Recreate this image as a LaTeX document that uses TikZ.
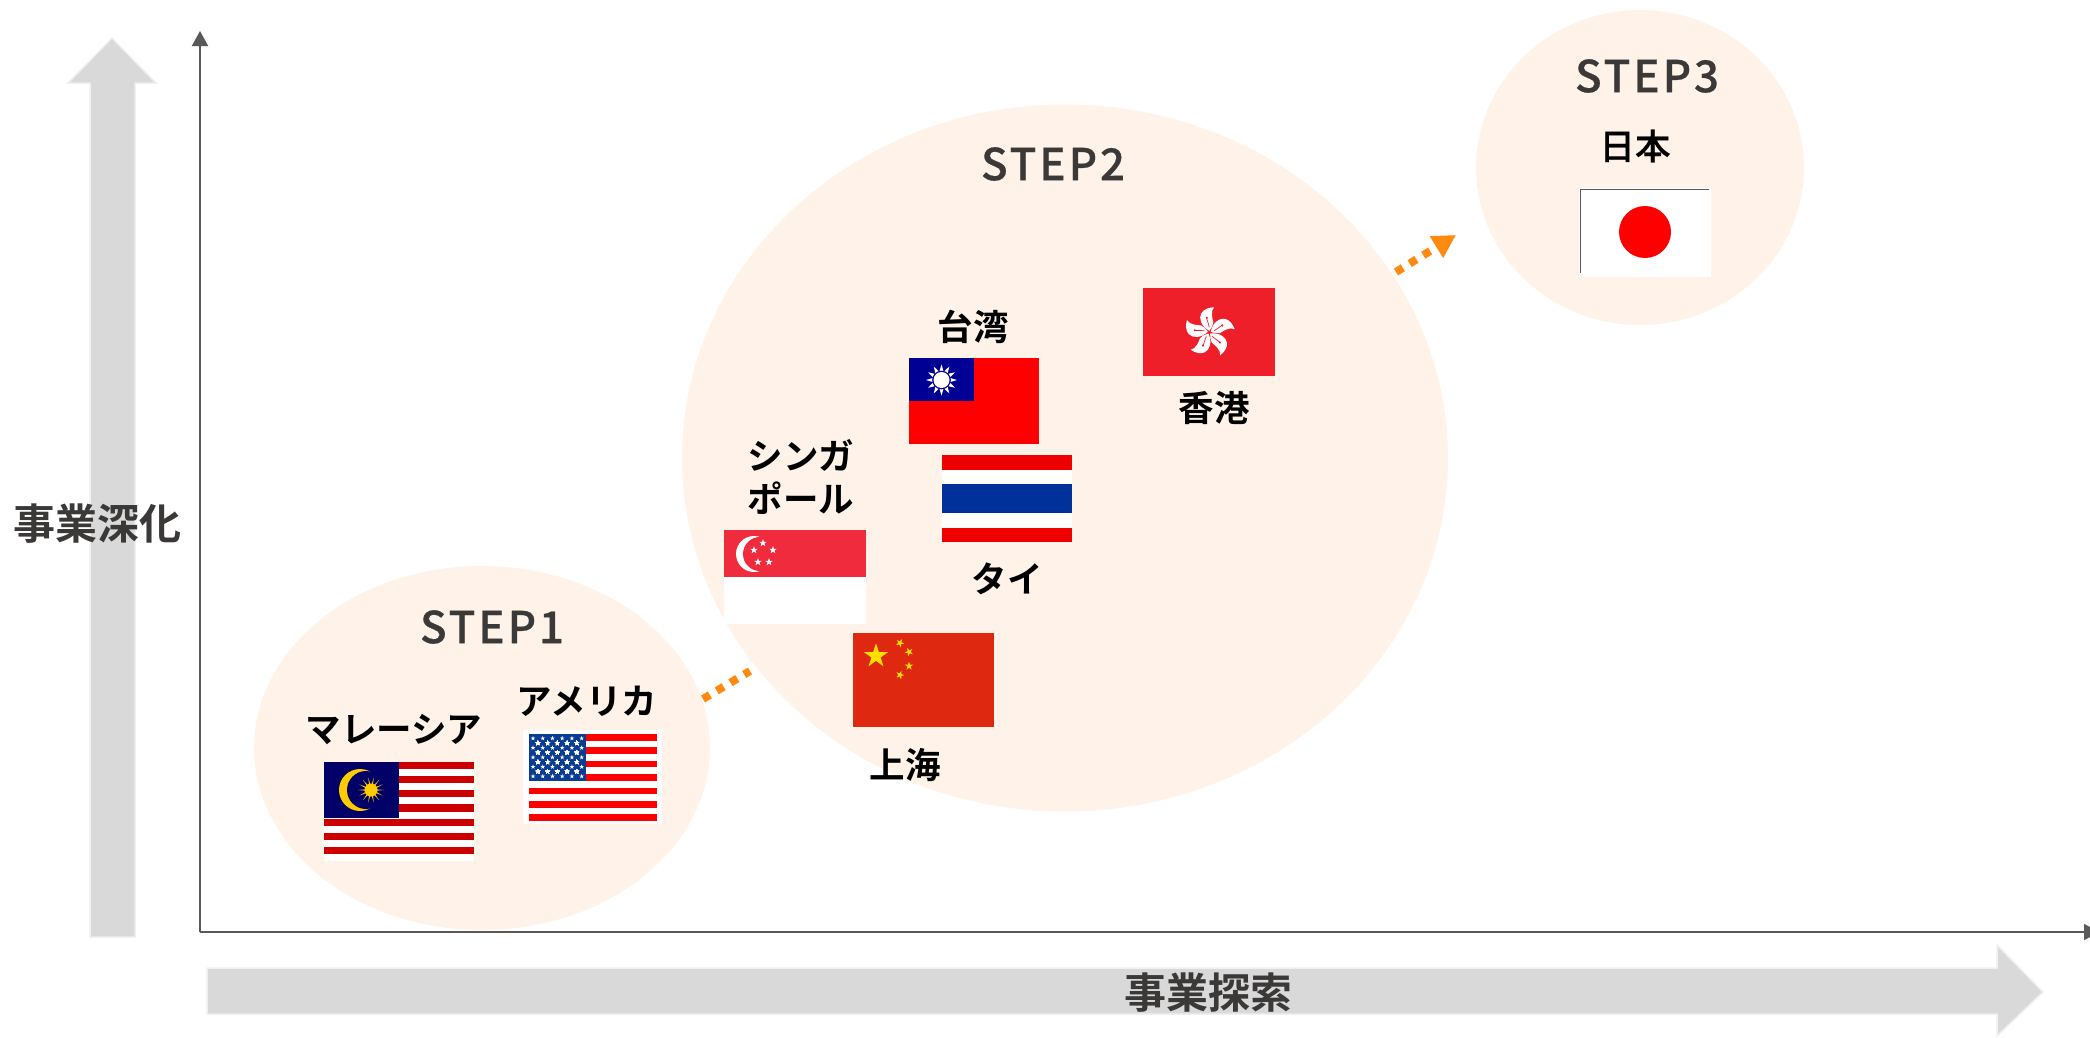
\documentclass[tikz,border=0pt]{standalone}
\usepackage{fontspec}
\setmainfont{Noto Sans CJK JP}[BoldFont={Noto Sans CJK JP Bold}]
\newfontfamily\medfont{Noto Sans CJK JP Medium}[FakeBold=0.5]
\usetikzlibrary{arrows.meta,shapes.geometric}
\definecolor{peach}{HTML}{FFF3E9}
\definecolor{band}{HTML}{D9D9D9}
\definecolor{bandedge}{HTML}{F0F0F0}
\definecolor{axisc}{HTML}{595959}
\definecolor{ink}{HTML}{3B3838}
\definecolor{orangec}{HTML}{FF8A0F}
\definecolor{myred}{HTML}{CC0000}
\definecolor{myblue}{HTML}{000066}
\definecolor{mygold}{HTML}{FFCC00}
\definecolor{usblue}{HTML}{0A3D91}
\definecolor{twblue}{HTML}{000095}
\definecolor{hkred}{HTML}{EE1F29}
\definecolor{thred}{HTML}{EE0000}
\definecolor{thblue}{HTML}{00309A}
\definecolor{sgred}{HTML}{EF2B3D}
\definecolor{cnred}{HTML}{DE2910}
\definecolor{cngold}{HTML}{FFDE00}
\newcommand\fstar[4]{\fill[#4] (#1,#2) +(-90:#3) -- +(-54:#3*0.382) -- +(-18:#3) -- +(18:#3*0.382) -- +(54:#3) -- +(90:#3*0.382) -- +(126:#3) -- +(162:#3*0.382) -- +(198:#3) -- +(234:#3*0.382) -- cycle;}
\newcommand\tiltstar[3]{\begin{scope}[shift={(#1,#2)},rotate=#3]\fstar{0}{0}{4.4}{cngold}\end{scope}}
\tikzset{
  stepzone/.style={ellipse,fill=peach,draw=none,inner sep=0pt,outer sep=0pt},
  steptitle/.style={inner sep=0pt,text=ink,font=\medfont\fontsize{44}{44}\selectfont\addfontfeature{LetterSpace=6.5}},
  place/.style={inner sep=0pt,text=black,align=center,font=\bfseries\fontsize{35.5}{43}\selectfont},
  axistitle/.style={inner sep=0pt,text=ink,font=\bfseries\fontsize{42}{42}\selectfont},
  bandarrow/.style={fill=band,draw=bandedge,line width=1.5pt},
  axisline/.style={draw=axisc,line width=2pt,-{Triangle[length=15pt,width=16pt]}},
  dotted path/.style={draw=orangec,line width=8pt,dash pattern=on 8pt off 8pt},
}
\begin{document}
\begin{tikzpicture}[x=1pt,y=-1pt]
\clip (0,0) rectangle (2090,1037);
\fill[white] (0,0) rectangle (2090,1037);
% zones
\node[stepzone,minimum width=456pt,minimum height=364pt] (zone1) at (482,748) {};
\node[stepzone,minimum width=766pt,minimum height=707pt] (zone2) at (1065,458) {};
\node[stepzone,minimum width=328pt,minimum height=315pt] (zone3) at (1640,167.5) {};
% band arrows
\draw[bandarrow] (90,937) -- (90,83) -- (68,83) -- (112,38) -- (156,83) -- (135,83) -- (135,937) -- cycle;
\draw[bandarrow] (207,968) -- (1997,968) -- (1997,945) -- (2043,992) -- (1997,1036) -- (1997,1014) -- (207,1014) -- cycle;
% axes
\coordinate (origin) at (200,932);
\coordinate (ytip) at (200,31);
\coordinate (xtip) at (2099,932);
\draw[axisline] (origin) -- (ytip);
\draw[axisline] (origin) -- (xtip);
% orange connectors
\coordinate (a1) at (703,699);
\coordinate (a2) at (750,671);
\coordinate (b1) at (1396,272);
\coordinate (b2) at (1456,235);
\draw[dotted path] (a1) -- (a2);
\draw[dotted path,-{Triangle[length=23pt,width=24pt]}] (b1) -- (b2);
% Malaysia
\fill[white] (324,762) rectangle (474,861);
\foreach \i in {0,2,...,12} \fill[myred] (324,{762+\i*7.07}) rectangle (474,{762+(\i+1)*7.07});
\fill[myblue] (324,762) rectangle (399,818);
\fill[mygold] (360,790) circle[radius=21];
\fill[myblue] (366,790) circle[radius=19];
\foreach \a in {0,25.71,...,340} \fill[mygold] (371,790) +(\a:13) -- +(\a+10:4.5) -- +(\a-10:4.5) -- cycle;
\fill[mygold] (371,790) circle[radius=6.5];
% USA
\fill[white] (523,730) rectangle (662,824);
\foreach \i in {0,2,...,12} \fill[red] (529,{734+\i*6.69}) rectangle (657,{734+(\i+1)*6.69});
\fill[usblue] (529,734) rectangle (586,781);
\foreach \r in {0,2,4,6,8} \foreach \c in {0,...,5} \fstar{533+\c*9.73}{738.3+\r*4.75}{2.5}{white}
\foreach \r in {1,3,5,7} \foreach \c in {0,...,4} \fstar{537.9+\c*9.73}{738.3+\r*4.75}{2.5}{white}
% Taiwan
\fill[red] (909,358) rectangle (1039,444);
\fill[twblue] (909,358) rectangle (974,401);
\foreach \a in {0,30,...,330} \fill[white] (941.5,380) +(\a:15.5) -- +(\a+13:9) -- +(\a-13:9) -- cycle;
\fill[twblue] (941.5,380) circle[radius=9.3];
\fill[white] (941.5,380) circle[radius=8];
% Hong Kong
\fill[hkred] (1143,288) rectangle (1275,376);
\foreach \a in {0,72,...,288} {
  \begin{scope}[shift={(1209.3,332.3)},rotate=\a]
    \fill[white] (0,-1.5) .. controls (-8,-6) and (-11,-14) .. (-8,-19) .. controls (-6,-23) and (0,-25) .. (4.7,-25) .. controls (1,-21) and (3,-14) .. (4,-10) .. controls (4,-7) and (2,-4) .. cycle;
    \draw[hkred,line width=0.7pt] (0,-5) .. controls (-1,-9) and (-2,-12) .. (-3,-15);
    \fill[hkred] (-2.5,-14.5) circle[radius=1.2];
  \end{scope}
}
% Thailand
\fill[thred] (942,455) rectangle (1072,542);
\fill[white] (942,470) rectangle (1072,528);
\fill[thblue] (942,484) rectangle (1072,513);
% Singapore
\fill[white] (724,577) rectangle (866,624);
\fill[sgred] (724,530) rectangle (866,577);
\fill[white] (754,554) circle[radius=18];
\fill[sgred] (760,554) circle[radius=17];
\fstar{763}{543}{4}{white}
\fstar{773}{550}{4}{white}
\fstar{769}{562}{4}{white}
\fstar{758}{562}{4}{white}
\fstar{754}{550}{4}{white}
% China
\fill[cnred] (853,633) rectangle (994,727);
\fstar{876}{656}{12.7}{cngold}
\tiltstar{900}{643}{118}
\tiltstar{909}{652}{97}
\tiltstar{909}{666}{73}
\tiltstar{900}{675}{52}
% Japan
\fill[white] (1579,188) rectangle (1711,277);
\draw[axisc,line width=0.8pt] (1580.5,273) -- (1580.5,189) -- (1709,189);
\fill[red] (1645,232) circle[radius=26];
% texts
\node[steptitle] (t1) at (492,627) {STEP1};
\node[steptitle] (t2) at (1053,164) {STEP2};
\node[steptitle] (t3) at (1647,76) {STEP3};
\node[place] (my) at (394,730) {マレーシア};
\node[place] (us) at (587,701) {アメリカ};
\node[place] (tw) at (973,327) {台湾};
\node[place] (hk) at (1214,408) {香港};
\node[place] (sg) at (801,477) {シンガ\\ポール};
\node[place] (th) at (1007,579) {タイ};
\node[place] (sh) at (905,765) {上海};
\node[place,font=\medfont\fontsize{35.5}{43}\selectfont] (jp) at (1635,146) {日本};
\node[axistitle] (yt) at (97,524) {事業深化};
\node[axistitle] (xt) at (1208,993) {事業探索};
\end{tikzpicture}
\end{document}
